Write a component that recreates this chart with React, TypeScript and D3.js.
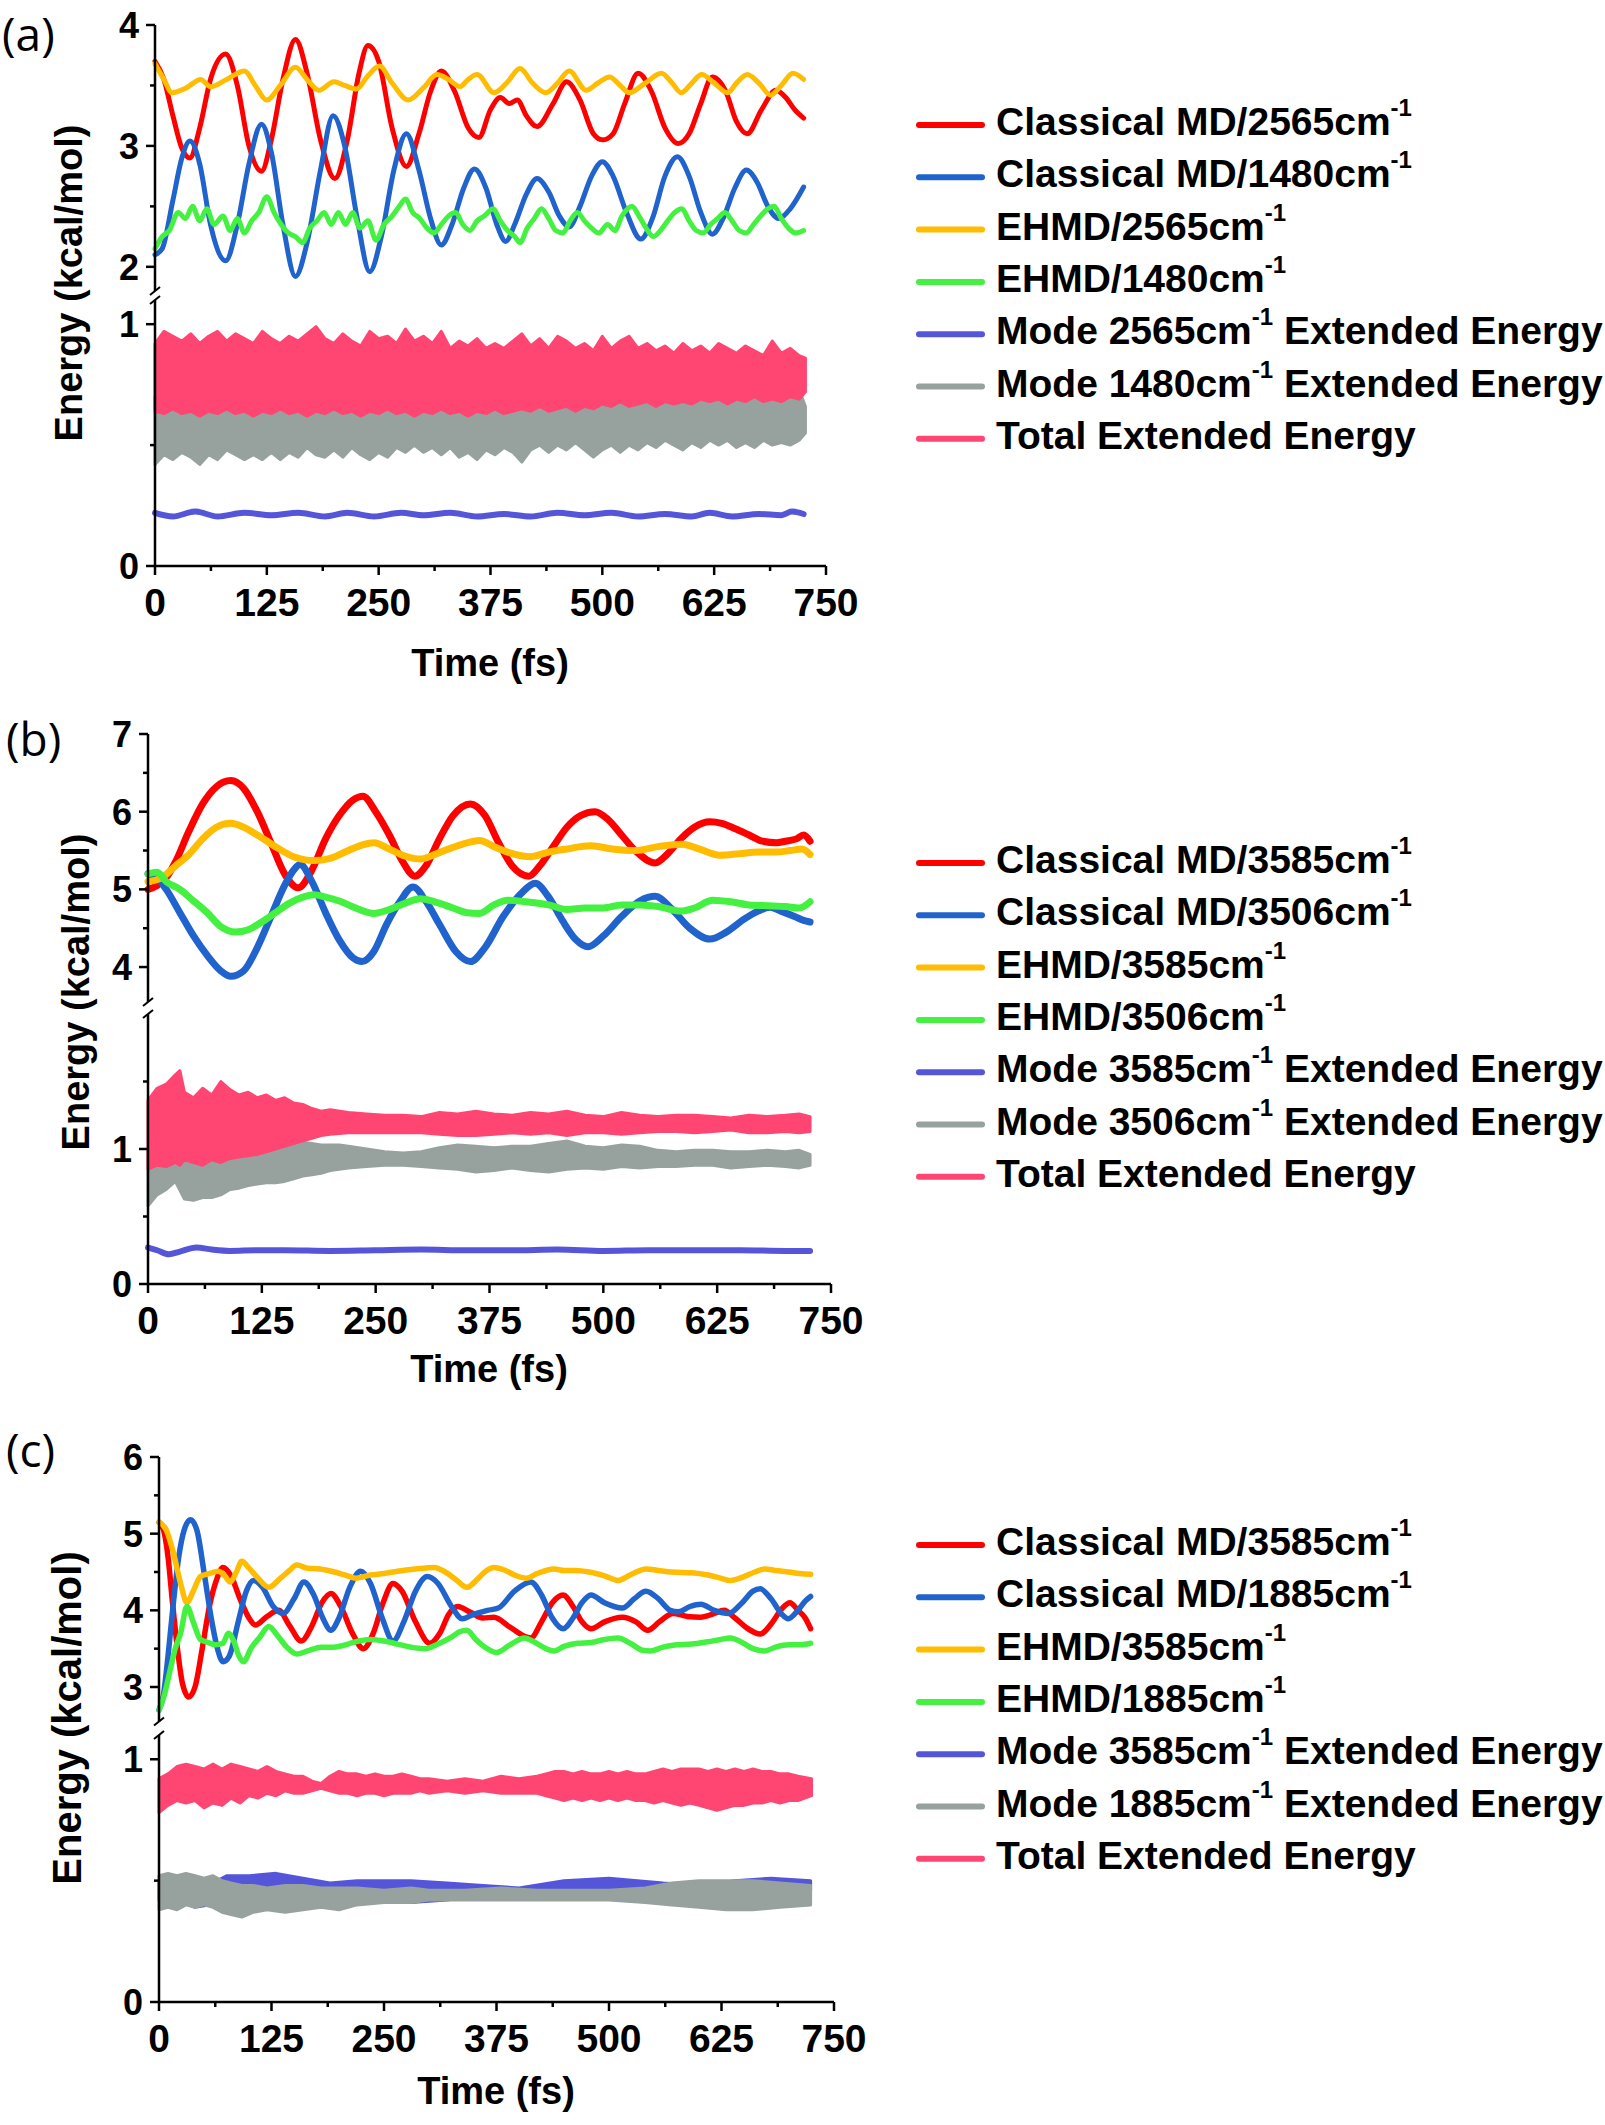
import React from 'react';
import * as d3 from 'd3';

type P = [number, number];
type B = [number, number, number];

// ---------------- tick values ----------------
const timeTicks = [0, 125, 250, 375, 500, 625, 750];
const timeMinor = [62.5, 187.5, 312.5, 437.5, 562.5, 687.5];

// ---------------- legend labels ----------------
const aLabels = ['Classical MD/2565cm-1', 'Classical MD/1480cm-1', 'EHMD/2565cm-1', 'EHMD/1480cm-1', 'Mode 2565cm-1 Extended Energy', 'Mode 1480cm-1 Extended Energy', 'Total Extended Energy'];
const bLabels = ['Classical MD/3585cm-1', 'Classical MD/3506cm-1', 'EHMD/3585cm-1', 'EHMD/3506cm-1', 'Mode 3585cm-1 Extended Energy', 'Mode 3506cm-1 Extended Energy', 'Total Extended Energy'];
const cLabels = ['Classical MD/3585cm-1', 'Classical MD/1885cm-1', 'EHMD/3585cm-1', 'EHMD/1885cm-1', 'Mode 3585cm-1 Extended Energy', 'Mode 1885cm-1 Extended Energy', 'Total Extended Energy'];

// ---------------- panel (a) data ----------------
const aRed: P[] = [[0,3.70],[10,3.55],[20,3.25],[30,2.98],[39,2.90],[50,3.15],[62,3.55],[79,3.76],[92,3.50],[105,3.00],[119,2.79],[130,3.05],[143,3.55],[157,3.88],[170,3.60],[185,3.05],[201,2.73],[215,3.05],[228,3.60],[238,3.83],[250,3.70],[265,3.15],[281,2.83],[295,3.10],[308,3.45],[320,3.62],[335,3.45],[350,3.15],[362,3.07],[375,3.30],[386,3.40],[396,3.35],[405,3.38],[415,3.25],[427,3.16],[445,3.35],[460,3.53],[475,3.38],[490,3.10],[500,3.05],[512,3.10],[525,3.35],[540,3.60],[555,3.45],[570,3.15],[585,3.02],[597,3.10],[610,3.35],[623,3.57],[638,3.45],[650,3.20],[662,3.10],[678,3.30],[694,3.46],[705,3.40],[715,3.30],[725,3.23]];
const aBlue: P[] = [[0,2.10],[8,2.15],[20,2.55],[30,2.90],[39,3.04],[50,2.85],[62,2.35],[79,2.05],[92,2.35],[105,2.85],[119,3.18],[130,2.95],[143,2.35],[157,1.92],[170,2.20],[185,2.80],[199,3.25],[212,3.00],[226,2.40],[240,1.96],[253,2.25],[267,2.80],[281,3.10],[295,2.80],[308,2.40],[320,2.18],[332,2.35],[345,2.65],[357,2.81],[370,2.65],[382,2.35],[392,2.21],[402,2.35],[415,2.60],[427,2.73],[440,2.62],[452,2.42],[463,2.33],[475,2.50],[488,2.75],[500,2.87],[512,2.75],[527,2.45],[543,2.23],[556,2.40],[570,2.75],[584,2.91],[597,2.75],[610,2.45],[623,2.27],[635,2.40],[648,2.65],[661,2.80],[673,2.70],[685,2.50],[697,2.40],[710,2.48],[725,2.66]];
const aYellow: P[] = [[0,3.68],[10,3.55],[19,3.44],[35,3.48],[51,3.55],[62,3.49],[80,3.55],[100,3.62],[112,3.50],[125,3.38],[140,3.50],[157,3.65],[170,3.55],[183,3.46],[200,3.53],[212,3.50],[225,3.47],[238,3.58],[251,3.66],[265,3.52],[283,3.38],[300,3.48],[315,3.59],[328,3.55],[341,3.49],[350,3.55],[360,3.59],[379,3.44],[393,3.52],[408,3.64],[422,3.52],[437,3.44],[450,3.52],[463,3.62],[482,3.46],[495,3.52],[508,3.57],[520,3.50],[530,3.44],[548,3.52],[566,3.60],[578,3.52],[588,3.44],[600,3.52],[611,3.59],[625,3.52],[640,3.44],[650,3.52],[662,3.59],[675,3.52],[688,3.42],[700,3.50],[713,3.60],[725,3.55]];
const aGreen: P[] = [[0,2.15],[8,2.25],[16,2.30],[26,2.45],[34,2.40],[42,2.50],[50,2.38],[58,2.48],[66,2.35],[76,2.42],[84,2.30],[92,2.40],[100,2.28],[108,2.38],[116,2.45],[125,2.58],[133,2.45],[141,2.35],[149,2.28],[157,2.25],[165,2.20],[173,2.32],[181,2.38],[189,2.45],[197,2.35],[205,2.45],[213,2.35],[221,2.45],[229,2.32],[238,2.38],[247,2.22],[256,2.35],[265,2.42],[273,2.50],[280,2.56],[288,2.45],[296,2.40],[304,2.32],[312,2.28],[320,2.35],[328,2.42],[336,2.45],[344,2.35],[352,2.30],[360,2.38],[368,2.42],[378,2.48],[386,2.38],[394,2.30],[402,2.25],[408,2.20],[416,2.32],[424,2.40],[432,2.48],[440,2.40],[448,2.30],[456,2.28],[464,2.38],[472,2.45],[480,2.38],[488,2.32],[496,2.28],[506,2.35],[514,2.30],[522,2.42],[533,2.50],[541,2.42],[549,2.32],[557,2.25],[565,2.30],[573,2.38],[581,2.45],[589,2.48],[597,2.38],[605,2.30],[613,2.28],[621,2.35],[629,2.40],[637,2.45],[645,2.38],[653,2.30],[661,2.28],[669,2.35],[677,2.42],[685,2.48],[692,2.50],[700,2.40],[708,2.32],[716,2.28],[725,2.30]];
const aPurple: P[] = [[0,0.22],[20,0.205],[45,0.225],[70,0.205],[100,0.22],[130,0.21],[160,0.22],[190,0.205],[215,0.22],[245,0.205],[275,0.22],[300,0.21],[330,0.22],[360,0.205],[390,0.215],[420,0.205],[450,0.22],[480,0.21],[510,0.22],[540,0.205],[570,0.215],[600,0.205],[620,0.22],[645,0.205],[675,0.215],[700,0.21],[712,0.225],[725,0.215]];
const aGray: B[] = [[0,0.70,0.42],[10,0.72,0.46],[20,0.71,0.44],[30,0.72,0.47],[40,0.73,0.45],[50,0.71,0.42],[60,0.72,0.46],[70,0.71,0.44],[80,0.73,0.48],[90,0.72,0.46],[100,0.71,0.44],[110,0.72,0.46],[120,0.73,0.44],[130,0.72,0.47],[140,0.71,0.44],[150,0.72,0.47],[160,0.73,0.45],[170,0.72,0.49],[180,0.71,0.46],[190,0.72,0.45],[200,0.73,0.48],[210,0.72,0.45],[220,0.71,0.49],[230,0.72,0.46],[240,0.73,0.44],[250,0.72,0.47],[260,0.71,0.45],[270,0.72,0.49],[280,0.73,0.47],[290,0.72,0.50],[300,0.71,0.47],[310,0.72,0.49],[320,0.73,0.46],[330,0.72,0.49],[340,0.71,0.45],[350,0.72,0.47],[360,0.73,0.44],[370,0.72,0.48],[380,0.71,0.46],[390,0.72,0.49],[400,0.73,0.47],[410,0.72,0.43],[420,0.71,0.48],[430,0.72,0.50],[440,0.73,0.47],[450,0.72,0.50],[460,0.71,0.48],[470,0.72,0.51],[480,0.73,0.48],[490,0.72,0.45],[500,0.71,0.48],[510,0.72,0.50],[520,0.73,0.47],[530,0.72,0.50],[540,0.72,0.48],[550,0.73,0.51],[560,0.72,0.49],[570,0.73,0.52],[580,0.74,0.50],[590,0.72,0.48],[600,0.73,0.51],[610,0.74,0.49],[620,0.72,0.52],[630,0.74,0.50],[640,0.75,0.52],[650,0.73,0.49],[660,0.74,0.51],[670,0.73,0.49],[680,0.75,0.52],[690,0.73,0.50],[700,0.74,0.51],[710,0.72,0.50],[720,0.73,0.52],[727,0.66,0.55]];
const aPink: B[] = [[0,0.92,0.64],[10,0.97,0.63],[20,0.95,0.65],[30,0.93,0.63],[40,0.96,0.64],[50,0.92,0.62],[60,0.95,0.64],[70,0.97,0.63],[80,0.93,0.65],[90,0.96,0.63],[100,0.94,0.64],[110,0.92,0.62],[120,0.97,0.64],[130,0.94,0.63],[140,0.92,0.65],[150,0.95,0.63],[160,0.93,0.64],[170,0.96,0.62],[180,0.99,0.64],[190,0.94,0.63],[200,0.92,0.65],[210,0.96,0.63],[220,0.93,0.64],[230,0.91,0.62],[240,0.97,0.64],[250,0.94,0.63],[260,0.95,0.65],[270,0.92,0.63],[280,0.98,0.64],[290,0.93,0.62],[300,0.95,0.64],[310,0.92,0.63],[320,0.97,0.65],[330,0.90,0.63],[340,0.93,0.64],[350,0.91,0.62],[360,0.94,0.64],[370,0.90,0.63],[380,0.92,0.65],[390,0.90,0.63],[400,0.93,0.64],[410,0.96,0.65],[420,0.91,0.64],[430,0.94,0.66],[440,0.90,0.64],[450,0.95,0.65],[460,0.93,0.66],[470,0.90,0.64],[480,0.92,0.66],[490,0.89,0.65],[500,0.95,0.67],[510,0.90,0.66],[520,0.93,0.68],[530,0.95,0.66],[540,0.90,0.67],[550,0.92,0.68],[560,0.89,0.66],[570,0.91,0.68],[580,0.88,0.67],[590,0.92,0.68],[600,0.89,0.67],[610,0.91,0.69],[620,0.88,0.68],[630,0.92,0.69],[640,0.90,0.67],[650,0.88,0.69],[660,0.91,0.68],[670,0.89,0.70],[680,0.87,0.68],[690,0.93,0.69],[700,0.88,0.68],[710,0.90,0.70],[720,0.87,0.69],[727,0.86,0.72]];

// ---------------- panel (b) data ----------------
const bRed: P[] = [[0,5.00],[10,5.05],[20,5.15],[30,5.35],[45,5.75],[60,6.10],[75,6.32],[91,6.40],[105,6.30],[120,6.00],[135,5.60],[150,5.20],[165,5.02],[180,5.25],[195,5.65],[210,5.95],[225,6.15],[236,6.20],[250,6.00],[265,5.70],[280,5.35],[293,5.17],[305,5.30],[320,5.65],[335,5.95],[354,6.10],[370,5.95],[385,5.60],[400,5.30],[418,5.17],[430,5.30],[445,5.55],[460,5.80],[475,5.95],[491,6.00],[505,5.90],[520,5.70],[535,5.50],[557,5.34],[570,5.45],[585,5.65],[600,5.80],[617,5.87],[630,5.85],[645,5.78],[660,5.70],[675,5.62],[690,5.60],[700,5.62],[712,5.65],[720,5.70],[727,5.62]];
const bBlue: P[] = [[0,5.20],[10,5.15],[20,5.00],[35,4.70],[50,4.40],[65,4.15],[80,3.95],[91,3.88],[105,3.95],[120,4.25],[135,4.65],[150,5.05],[160,5.25],[167,5.32],[180,5.10],[195,4.70],[210,4.35],[225,4.12],[235,4.07],[248,4.20],[262,4.55],[277,4.85],[291,5.03],[305,4.85],[320,4.55],[338,4.20],[354,4.07],[370,4.25],[390,4.65],[410,4.95],[425,5.08],[440,4.90],[455,4.60],[470,4.35],[483,4.26],[500,4.40],[520,4.65],[540,4.85],[557,4.91],[575,4.75],[595,4.50],[617,4.36],[635,4.45],[655,4.62],[670,4.72],[683,4.77],[695,4.72],[710,4.65],[720,4.60],[727,4.58]];
const bYellow: P[] = [[0,5.10],[15,5.15],[30,5.30],[45,5.45],[60,5.65],[75,5.80],[91,5.85],[105,5.80],[120,5.70],[140,5.55],[160,5.42],[182,5.37],[200,5.40],[220,5.50],[235,5.57],[248,5.60],[265,5.52],[282,5.43],[299,5.39],[315,5.45],[330,5.52],[345,5.58],[364,5.63],[380,5.55],[400,5.46],[420,5.42],[440,5.48],[460,5.52],[486,5.56],[510,5.52],[535,5.50],[560,5.55],[587,5.58],[605,5.52],[628,5.44],[650,5.46],[670,5.48],[690,5.48],[705,5.50],[718,5.52],[727,5.45]];
const bGreen: P[] = [[0,5.20],[10,5.22],[20,5.10],[35,5.00],[50,4.85],[65,4.70],[80,4.52],[96,4.45],[110,4.48],[125,4.58],[140,4.70],[155,4.82],[170,4.90],[182,4.93],[195,4.90],[210,4.85],[230,4.75],[248,4.69],[265,4.74],[282,4.82],[299,4.88],[315,4.84],[335,4.76],[350,4.70],[364,4.69],[380,4.80],[395,4.86],[415,4.84],[440,4.80],[460,4.74],[480,4.76],[500,4.76],[520,4.80],[540,4.80],[560,4.78],[585,4.72],[600,4.76],[620,4.86],[640,4.84],[660,4.80],[680,4.79],[700,4.78],[715,4.76],[727,4.84]];
const bPurple: P[] = [[0,0.27],[10,0.25],[23,0.22],[35,0.24],[53,0.27],[70,0.255],[90,0.245],[120,0.25],[150,0.25],[200,0.245],[250,0.25],[300,0.255],[350,0.25],[400,0.25],[450,0.255],[500,0.245],[550,0.25],[600,0.25],[650,0.25],[700,0.245],[727,0.245]];
const bGray: B[] = [[0,1.00,0.58],[10,0.98,0.66],[20,1.00,0.70],[30,1.02,0.76],[40,1.00,0.63],[50,1.02,0.62],[60,1.00,0.64],[70,1.02,0.64],[80,1.02,0.66],[90,1.03,0.70],[100,1.03,0.71],[110,1.02,0.73],[120,1.03,0.74],[130,1.03,0.75],[140,1.04,0.75],[150,1.05,0.76],[160,1.05,0.78],[170,1.05,0.80],[180,1.04,0.81],[190,1.03,0.82],[200,1.03,0.84],[210,1.03,0.85],[220,1.02,0.86],[240,1.00,0.87],[260,0.98,0.88],[280,0.97,0.88],[300,0.98,0.87],[320,1.01,0.86],[340,1.03,0.85],[360,1.02,0.83],[380,1.01,0.84],[400,1.02,0.86],[420,1.02,0.84],[440,1.04,0.83],[460,1.06,0.85],[480,1.02,0.86],[500,1.01,0.85],[520,1.03,0.87],[540,1.02,0.86],[560,0.99,0.87],[580,0.98,0.87],[600,0.99,0.88],[620,0.99,0.88],[640,0.98,0.86],[660,0.98,0.87],[680,0.99,0.88],[700,0.98,0.87],[715,0.99,0.86],[727,0.96,0.88]];
const bPink: B[] = [[0,1.36,0.85],[10,1.45,0.88],[20,1.48,0.87],[30,1.55,0.90],[35,1.58,0.88],[40,1.42,0.92],[50,1.38,0.90],[60,1.45,0.88],[70,1.40,0.92],[80,1.50,0.90],[90,1.44,0.93],[100,1.40,0.94],[110,1.42,0.95],[120,1.38,0.96],[130,1.40,0.98],[140,1.36,1.00],[150,1.38,1.02],[160,1.34,1.04],[170,1.33,1.06],[180,1.30,1.08],[190,1.28,1.10],[200,1.29,1.11],[220,1.27,1.12],[240,1.26,1.12],[260,1.25,1.12],[280,1.25,1.12],[300,1.24,1.12],[320,1.27,1.11],[340,1.26,1.10],[360,1.28,1.10],[380,1.26,1.11],[400,1.25,1.12],[420,1.27,1.11],[440,1.26,1.12],[460,1.28,1.10],[480,1.25,1.12],[500,1.24,1.12],[520,1.27,1.11],[540,1.25,1.12],[560,1.24,1.13],[580,1.25,1.13],[600,1.25,1.12],[620,1.24,1.13],[640,1.23,1.14],[660,1.25,1.12],[680,1.24,1.12],[700,1.25,1.13],[715,1.26,1.12],[727,1.24,1.13]];

// ---------------- panel (c) data ----------------
const cRed: P[] = [[0,5.15],[5,5.05],[10,4.70],[15,4.10],[20,3.55],[26,3.05],[33,2.87],[40,3.00],[48,3.50],[56,4.05],[64,4.40],[71,4.56],[80,4.45],[90,4.15],[100,3.90],[107,3.81],[120,3.92],[133,4.00],[145,3.80],[158,3.60],[170,3.80],[181,4.10],[191,4.22],[202,4.05],[215,3.70],[227,3.50],[238,3.70],[249,4.10],[260,4.35],[270,4.25],[285,3.85],[301,3.57],[312,3.70],[322,3.95],[332,4.05],[345,3.98],[360,3.90],[372,3.91],[390,3.78],[413,3.64],[425,3.85],[437,4.10],[449,4.20],[460,4.05],[470,3.85],[480,3.76],[495,3.85],[515,3.91],[530,3.85],[543,3.74],[556,3.85],[571,3.96],[587,3.92],[602,3.91],[615,3.95],[628,4.00],[640,3.90],[652,3.78],[668,3.69],[680,3.82],[692,4.02],[701,4.10],[710,4.00],[718,3.90],[724,3.76]];
const cBlue: P[] = [[0,2.70],[5,2.90],[10,3.40],[16,4.10],[22,4.70],[28,5.05],[35,5.18],[42,5.05],[50,4.50],[58,3.90],[65,3.50],[71,3.33],[78,3.40],[88,3.85],[97,4.25],[105,4.39],[115,4.30],[127,4.05],[138,3.96],[150,4.15],[161,4.37],[172,4.20],[182,3.90],[191,3.74],[200,3.90],[212,4.30],[224,4.51],[235,4.35],[248,3.90],[260,3.60],[272,3.85],[285,4.25],[298,4.44],[310,4.35],[325,4.05],[337,3.89],[350,3.95],[365,4.00],[377,4.03],[395,4.25],[413,4.37],[425,4.20],[437,3.90],[449,3.76],[460,3.90],[470,4.10],[480,4.20],[495,4.10],[515,4.03],[528,4.15],[541,4.25],[555,4.15],[568,4.00],[577,3.98],[590,4.05],[602,4.08],[617,4.00],[633,3.96],[648,4.10],[660,4.25],[668,4.28],[680,4.15],[692,3.95],[699,3.89],[710,4.00],[718,4.12],[724,4.18]];
const cYellow: P[] = [[0,5.15],[8,5.05],[16,4.75],[24,4.35],[31,4.10],[38,4.25],[46,4.44],[56,4.48],[66,4.51],[73,4.45],[79,4.37],[86,4.50],[92,4.64],[100,4.55],[110,4.42],[122,4.30],[135,4.42],[145,4.52],[153,4.59],[165,4.55],[179,4.54],[195,4.50],[207,4.46],[219,4.42],[235,4.46],[250,4.48],[265,4.51],[285,4.54],[306,4.56],[318,4.50],[330,4.40],[342,4.30],[355,4.42],[364,4.52],[372,4.56],[385,4.52],[395,4.46],[408,4.42],[420,4.48],[430,4.52],[439,4.54],[450,4.52],[462,4.52],[478,4.50],[495,4.45],[510,4.39],[525,4.47],[541,4.54],[555,4.52],[570,4.50],[592,4.49],[610,4.46],[624,4.42],[635,4.39],[650,4.44],[662,4.50],[673,4.54],[685,4.52],[700,4.50],[712,4.48],[724,4.47]];
const cGreen: P[] = [[0,2.70],[6,2.90],[12,3.20],[18,3.50],[24,3.70],[31,4.05],[38,3.85],[46,3.62],[55,3.58],[63,3.55],[71,3.57],[77,3.70],[83,3.60],[89,3.40],[94,3.33],[102,3.50],[112,3.65],[122,3.79],[131,3.68],[142,3.52],[153,3.43],[165,3.47],[180,3.52],[194,3.52],[210,3.56],[222,3.60],[235,3.62],[250,3.60],[265,3.56],[280,3.52],[296,3.50],[310,3.56],[325,3.65],[334,3.72],[342,3.74],[352,3.62],[362,3.52],[375,3.45],[390,3.55],[406,3.64],[418,3.58],[430,3.50],[439,3.47],[450,3.53],[465,3.57],[480,3.58],[495,3.62],[510,3.64],[525,3.56],[537,3.48],[546,3.47],[560,3.52],[575,3.55],[592,3.56],[610,3.59],[624,3.62],[635,3.64],[648,3.58],[660,3.50],[673,3.47],[685,3.52],[700,3.55],[712,3.55],[724,3.57]];
const cPurple: B[] = [[0,0.50,0.42],[20,0.50,0.42],[40,0.49,0.39],[55,0.49,0.40],[65,0.50,0.41],[75,0.52,0.45],[100,0.52,0.46],[130,0.53,0.45],[160,0.51,0.45],[190,0.49,0.44],[220,0.50,0.43],[250,0.50,0.42],[280,0.50,0.41],[320,0.49,0.42],[360,0.48,0.44],[400,0.47,0.45],[450,0.50,0.45],[500,0.51,0.45],[560,0.49,0.45],[600,0.48,0.43],[640,0.50,0.46],[680,0.51,0.46],[724,0.50,0.46]];
const cGray: B[] = [[0,0.52,0.38],[10,0.53,0.39],[20,0.52,0.38],[30,0.53,0.40],[40,0.52,0.39],[50,0.51,0.40],[60,0.52,0.39],[70,0.50,0.37],[80,0.49,0.36],[92,0.48,0.35],[105,0.48,0.37],[120,0.47,0.38],[140,0.48,0.37],[160,0.48,0.38],[180,0.47,0.39],[200,0.47,0.38],[220,0.47,0.40],[250,0.46,0.41],[280,0.47,0.41],[300,0.46,0.42],[340,0.46,0.42],[380,0.47,0.42],[420,0.46,0.42],[460,0.46,0.42],[500,0.46,0.42],[540,0.47,0.41],[570,0.49,0.40],[600,0.50,0.39],[630,0.50,0.38],[660,0.50,0.38],[690,0.49,0.39],[724,0.48,0.40]];
const cPink: B[] = [[0,0.92,0.78],[10,0.94,0.81],[20,0.97,0.83],[30,0.98,0.82],[40,0.97,0.83],[50,0.96,0.80],[60,0.98,0.82],[70,0.96,0.81],[80,0.98,0.84],[90,0.97,0.82],[100,0.96,0.85],[110,0.95,0.84],[120,0.97,0.86],[130,0.95,0.85],[140,0.94,0.87],[150,0.93,0.86],[160,0.93,0.86],[170,0.91,0.87],[180,0.90,0.88],[190,0.93,0.87],[200,0.95,0.86],[210,0.94,0.86],[220,0.94,0.85],[230,0.93,0.86],[240,0.94,0.86],[250,0.93,0.85],[260,0.93,0.86],[270,0.94,0.86],[280,0.93,0.86],[290,0.92,0.87],[300,0.92,0.86],[320,0.91,0.87],[340,0.92,0.86],[360,0.91,0.87],[380,0.93,0.86],[400,0.92,0.86],[420,0.93,0.86],[430,0.94,0.85],[440,0.95,0.84],[450,0.95,0.83],[460,0.94,0.84],[470,0.95,0.83],[480,0.94,0.84],[490,0.94,0.83],[500,0.95,0.84],[510,0.94,0.83],[520,0.95,0.84],[530,0.94,0.83],[540,0.94,0.83],[550,0.95,0.82],[560,0.96,0.83],[570,0.95,0.82],[580,0.96,0.81],[590,0.96,0.82],[600,0.96,0.81],[610,0.95,0.80],[620,0.96,0.79],[630,0.95,0.80],[640,0.96,0.81],[650,0.95,0.81],[660,0.96,0.82],[670,0.95,0.82],[680,0.95,0.83],[690,0.94,0.82],[700,0.94,0.83],[710,0.93,0.83],[725,0.92,0.85]];

// ---------------- styling ----------------
const FONT = '"Liberation Sans", Arial, Helvetica, sans-serif';
const COLORS = ['#FF0000', '#2063CC', '#FFBC00', '#44F040', '#5555DA', '#97A19E', '#FF4673'];

type Cfg = {
  tag: string; tagX: number; tagY: number;
  x0: number; x1: number;
  upDomain: [number, number]; upRange: [number, number];
  loDomain: [number, number]; loRange: [number, number];
  upMajor: number[]; upMinor: number[]; loMajor: number[]; loMinor: number[];
  titleX: number; titleY: number; titleSize: number; timeX: number; timeY: number;
  legendY: number; labels: string[];
  lines: P[][]; purple: P[] | null; bands: B[][]; lw: number;
};

const panels: Cfg[] = [
  {
    tag: '(a)', tagX: 2, tagY: 51, x0: 155, x1: 826,
    upDomain: [1.8, 4], upRange: [291, 25], loDomain: [0, 1.1], loRange: [566, 300],
    upMajor: [2, 3, 4], upMinor: [2.5, 3.5], loMajor: [0, 1], loMinor: [0.5],
    titleX: 82, titleY: 283, titleSize: 38, timeX: 490, timeY: 676, legendY: 125, labels: aLabels,
    lines: [aRed, aBlue, aYellow, aGreen], purple: aPurple, bands: [aGray, aPink], lw: 5,
  },
  {
    tag: '(b)', tagX: 6, tagY: 756, x0: 148, x1: 831,
    upDomain: [3.55, 7], upRange: [1002, 734], loDomain: [0, 2], loRange: [1284, 1014],
    upMajor: [4, 5, 6, 7], upMinor: [4.5, 5.5, 6.5], loMajor: [0, 1], loMinor: [0.5, 1.5],
    titleX: 89, titleY: 992, titleSize: 38, timeX: 489, timeY: 1382, legendY: 863, labels: bLabels,
    lines: [bRed, bBlue, bYellow, bGreen], purple: bPurple, bands: [bGray, bPink], lw: 7,
  },
  {
    tag: '(c)', tagX: 6, tagY: 1467, x0: 159, x1: 834,
    upDomain: [2.55, 6], upRange: [1721.5, 1457], loDomain: [0, 1.1], loRange: [2002, 1735],
    upMajor: [3, 4, 5, 6], upMinor: [3.5, 4.5, 5.5], loMajor: [0, 1], loMinor: [0.5],
    titleX: 81, titleY: 1718, titleSize: 40, timeX: 496, timeY: 2104, legendY: 1545, labels: cLabels,
    lines: [cRed, cBlue, cYellow, cGreen], purple: null, bands: [cPurple, cGray, cPink], lw: 5.5,
  },
];

function LegendItem({ y, color, label }: { y: number; color: string; label: string }) {
  const parts = label.split('cm-1');
  return (
    <g>
      <line x1={919} x2={982} y1={y} y2={y} stroke={color} strokeWidth={6} strokeLinecap="round" />
      <text x={996} y={y + 10} fontSize={39} fontWeight="bold" fontFamily={FONT} fill="#000">
        {parts.length === 1 ? label : (
          <>
            {parts[0] + 'cm'}
            <tspan fontSize={24} dy={-19}>-1</tspan>
            <tspan dy={19}>{parts[1]}</tspan>
          </>
        )}
      </text>
    </g>
  );
}

function Panel({ c }: { c: Cfg }) {
  const x = d3.scaleLinear().domain([0, 750]).range([c.x0, c.x1]);
  const yU = d3.scaleLinear().domain(c.upDomain).range(c.upRange);
  const yL = d3.scaleLinear().domain(c.loDomain).range(c.loRange);
  const lineU = d3.line<P>().x(d => x(d[0])).y(d => yU(d[1])).curve(d3.curveMonotoneX);
  const lineL = d3.line<P>().x(d => x(d[0])).y(d => yL(d[1])).curve(d3.curveMonotoneX);
  const bandL = d3.area<B>().x(d => x(d[0])).y0(d => yL(d[2])).y1(d => yL(d[1])).curve(d3.curveLinear);
  const ax = c.x0;
  const upBottom = c.upRange[0];
  const loTop = c.loRange[1];
  const yZero = yL(0);
  const bandColors = c.bands.length === 2 ? [COLORS[5], COLORS[6]] : [COLORS[4], COLORS[5], COLORS[6]];
  return (
    <g>
      <text x={c.tagX} y={c.tagY} fontSize={46} fontFamily='"Open Sans", "Noto Sans", sans-serif' fill="#000">{c.tag}</text>
      {/* data */}
      {c.lines.map((d, i) => (
        <path key={'l' + i} d={lineU(d) || ''} fill="none" stroke={COLORS[i]} strokeWidth={c.lw} strokeLinejoin="round" strokeLinecap="round" />
      ))}
      {c.purple && (
        <path d={lineL(c.purple) || ''} fill="none" stroke={COLORS[4]} strokeWidth={6} strokeLinejoin="round" strokeLinecap="round" />
      )}
      {c.bands.map((d, i) => (
        <path key={'b' + i} d={bandL(d) || ''} fill={bandColors[i]} stroke={bandColors[i]} strokeWidth={3} strokeLinejoin="round" />
      ))}
      {/* y axis */}
      <line x1={ax} x2={ax} y1={yU(c.upDomain[1])} y2={upBottom} stroke="#000" strokeWidth={2.5} />
      <line x1={ax} x2={ax} y1={loTop} y2={yZero} stroke="#000" strokeWidth={2.5} />
      <line x1={ax - 5} x2={ax + 5} y1={upBottom + 4} y2={upBottom - 4} stroke="#000" strokeWidth={2} />
      <line x1={ax - 5} x2={ax + 5} y1={loTop + 4} y2={loTop - 4} stroke="#000" strokeWidth={2} />
      {c.upMajor.map(v => (
        <g key={'um' + v}>
          <line x1={ax - 9} x2={ax} y1={yU(v)} y2={yU(v)} stroke="#000" strokeWidth={2.5} />
          <text x={ax - 16} y={yU(v)} dy="0.36em" textAnchor="end" fontSize={36} fontWeight="bold" fontFamily={FONT}>{v}</text>
        </g>
      ))}
      {c.upMinor.map(v => (
        <line key={'un' + v} x1={ax - 5} x2={ax} y1={yU(v)} y2={yU(v)} stroke="#000" strokeWidth={2.5} />
      ))}
      {c.loMajor.map(v => (
        <g key={'lm' + v}>
          <line x1={ax - 9} x2={ax} y1={yL(v)} y2={yL(v)} stroke="#000" strokeWidth={2.5} />
          <text x={ax - 16} y={yL(v)} dy="0.36em" textAnchor="end" fontSize={36} fontWeight="bold" fontFamily={FONT}>{v}</text>
        </g>
      ))}
      {c.loMinor.map(v => (
        <line key={'ln' + v} x1={ax - 5} x2={ax} y1={yL(v)} y2={yL(v)} stroke="#000" strokeWidth={2.5} />
      ))}
      {/* x axis */}
      <line x1={ax} x2={x(750)} y1={yZero} y2={yZero} stroke="#000" strokeWidth={2.5} />
      {timeTicks.map(t => (
        <g key={'xt' + t}>
          <line x1={x(t)} x2={x(t)} y1={yZero} y2={yZero + 9} stroke="#000" strokeWidth={2.5} />
          <text x={x(t)} y={yZero + 50} textAnchor="middle" fontSize={39} fontWeight="bold" fontFamily={FONT}>{t}</text>
        </g>
      ))}
      {timeMinor.map(t => (
        <line key={'xm' + t} x1={x(t)} x2={x(t)} y1={yZero} y2={yZero + 5} stroke="#000" strokeWidth={2.5} />
      ))}
      {/* titles */}
      <text transform={`translate(${c.titleX},${c.titleY}) rotate(-90)`} textAnchor="middle" fontSize={c.titleSize} fontWeight="bold" fontFamily={FONT}>Energy (kcal/mol)</text>
      <text x={c.timeX} y={c.timeY} textAnchor="middle" fontSize={38} fontWeight="bold" fontFamily={FONT}>Time (fs)</text>
      {/* legend */}
      {c.labels.map((lab, i) => (
        <LegendItem key={'lg' + i} y={c.legendY + 52.3 * i} color={COLORS[i]} label={lab} />
      ))}
    </g>
  );
}

export default function App() {
  return (
    <svg width={1605} height={2125} viewBox="0 0 1605 2125" style={{ position: 'absolute', left: 0, top: 0, background: '#fff', display: 'block' }}>
      <rect x={0} y={0} width={1605} height={2125} fill="#fff" />
      {panels.map((p, i) => <Panel key={i} c={p} />)}
    </svg>
  );
}
